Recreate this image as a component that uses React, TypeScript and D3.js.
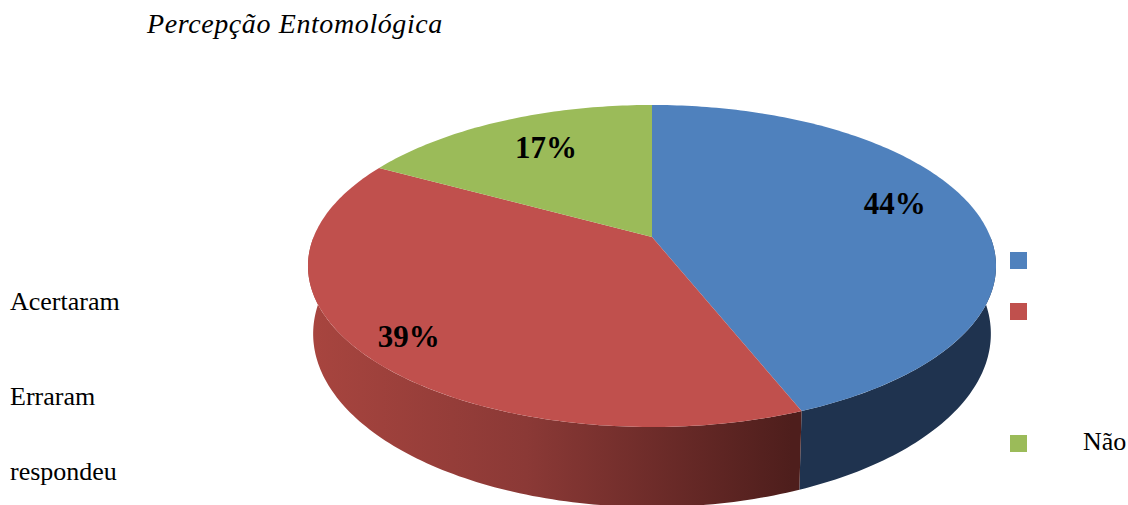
import React from "react";
import * as d3 from "d3";

const categories = ["Acertaram", "Erraram", "Não respondeu"];
const values = [44, 39, 17];
const percentLabels = ["44%", "39%", "17%"];
const topColors = ["#4F81BD", "#C0504D", "#9BBB59"];
const title = "Percepção Entomológica";

const W = 1128;
const H = 505;
const cx = 652;
const cy = 237;
const A = 338.4; // horizontal scale
const B = 155.8; // vertical scale
const K = 0.18; // perspective factor
const T = 65.6; // thickness
const BOTTOM_SHRINK = 0.985;

function proj(phiDeg: number, r: number, bottom = false): [number, number] {
  const phi = (phiDeg * Math.PI) / 180;
  const u = r * Math.sin(phi);
  const v = -r * Math.cos(phi);
  const d = 1 - K * v;
  if (!bottom) return [cx + (A * u) / d, cy + (B * v) / d];
  return [cx + (A * u * BOTTOM_SHRINK) / d, cy + (B * v + T) / d];
}

function arcPts(a0: number, a1: number, r: number, bottom = false) {
  const n = Math.max(2, Math.ceil(Math.abs(a1 - a0)));
  return d3.range(n + 1).map((i) => proj(a0 + ((a1 - a0) * i) / n, r, bottom));
}

const SERIF = "Liberation Serif";

export default function App() {
  const pie = d3.pie<number>().sort(null).value((d) => d);
  const arcs = pie(values).map((p) => ({
    start: (p.startAngle * 180) / Math.PI,
    end: (p.endAngle * 180) / Math.PI,
  }));
  const line = d3.line().curve(d3.curveLinear);

  const sides = arcs
    .map((a, i) => {
      const s = Math.max(a.start, 90);
      const e = Math.min(a.end, 270);
      if (e <= s) return null;
      const top = arcPts(s, e, 1);
      const bot = arcPts(e, s, 1, true);
      return { i, d: line([...top, ...bot])! + "Z" };
    })
    .filter(Boolean) as { i: number; d: string }[];

  const tops = arcs.map((a) => {
    const pts: [number, number][] = [[cx, cy], ...arcPts(a.start, a.end, 1)];
    return line(pts)! + "Z";
  });

  const labelR = [0.78, 0.86, 0.73];
  const labelShift = [-6, 0, 2];
  const labelPos = arcs.map((a, i) =>
    proj((a.start + a.end) / 2 + labelShift[i], labelR[i])
  );

  const sideFills = ["#1F334F", "url(#redSide)", "#5E7532"];
  const legendY = [252, 303, 435];
  const [naoWord, respWord] = categories[2].split(" ");

  return (
    <svg
      width={W}
      height={H}
      style={{ position: "absolute", left: 0, top: 0, background: "#fff" }}
    >
      <defs>
        <linearGradient
          id="redSide"
          gradientUnits="userSpaceOnUse"
          x1={308}
          y1={0}
          x2={792}
          y2={0}
        >
          <stop offset="0%" stopColor="#A8453F" />
          <stop offset="45%" stopColor="#8B3936" />
          <stop offset="100%" stopColor="#4E1E1C" />
        </linearGradient>
      </defs>
      <text
        x={147}
        y={33}
        fontFamily={SERIF}
        fontStyle="italic"
        fontSize={28}
        letterSpacing={0.6}
        fill="#000"
      >
        {title}
      </text>
      {sides.map((s) => (
        <path key={"s" + s.i} d={s.d} fill={sideFills[s.i]} />
      ))}
      {tops.map((d, i) => (
        <path key={"t" + i} d={d} fill={topColors[i]} />
      ))}
      {labelPos.map((p, i) => (
        <text
          key={"l" + i}
          x={p[0]}
          y={p[1]}
          dy="0.35em"
          textAnchor="middle"
          fontFamily={SERIF}
          fontWeight="bold"
          fontSize={31}
          fill="#000"
        >
          {percentLabels[i]}
        </text>
      ))}
      {topColors.map((c, i) => (
        <rect key={"lg" + i} x={1010} y={legendY[i]} width={17} height={17} fill={c} />
      ))}
      <text x={10} y={310} fontFamily={SERIF} fontSize={26} fill="#000">
        {categories[0]}
      </text>
      <text x={10} y={405} fontFamily={SERIF} fontSize={26} fill="#000">
        {categories[1]}
      </text>
      <text x={10} y={480} fontFamily={SERIF} fontSize={26} fill="#000">
        {respWord}
      </text>
      <text x={1083} y={450} fontFamily={SERIF} fontSize={26} fill="#000">
        {naoWord}
      </text>
    </svg>
  );
}
